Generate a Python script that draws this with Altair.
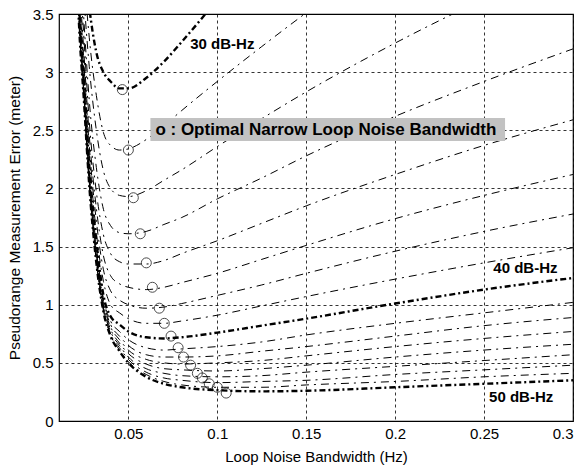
import altair as alt
import pandas as pd

# Loop noise bandwidth grid (Hz)
bw = [0.02, 0.022, 0.025, 0.028, 0.032, 0.036, 0.04, 0.045, 0.05, 0.06,
      0.07, 0.08, 0.1, 0.125, 0.15, 0.2, 0.25, 0.3]

# Pseudorange measurement error (m) for each C/N0 (dB-Hz)
err_30_00 = [5.2, 4.6, 4.0, 3.56, 3.17, 3.0, 2.92, 2.86, 2.86, 2.95, 3.09, 3.26, 3.62, 4.05, 4.43, 5.1, 5.7, 6.24]
err_31_25 = [5.57, 4.74, 3.88, 3.30, 2.80, 2.48, 2.37, 2.33, 2.34, 2.42, 2.54, 2.67, 2.92, 3.22, 3.51, 4.04, 4.51, 4.94]
err_32_50 = [5.33, 4.48, 3.65, 3.05, 2.50, 2.15, 2.0, 1.94, 1.93, 1.98, 2.07, 2.16, 2.36, 2.60, 2.83, 3.25, 3.63, 3.98]
err_33_75 = [5.13, 4.27, 3.45, 2.76, 2.18, 1.82, 1.68, 1.62, 1.61, 1.63, 1.69, 1.75, 1.91, 2.09, 2.28, 2.62, 2.92, 3.20]
err_35_00 = [4.97, 4.10, 3.30, 2.58, 1.97, 1.60, 1.44, 1.37, 1.35, 1.35, 1.38, 1.44, 1.55, 1.70, 1.85, 2.12, 2.37, 2.59]
err_36_25 = [4.85, 3.97, 3.17, 2.46, 1.83, 1.42, 1.25, 1.18, 1.15, 1.13, 1.15, 1.19, 1.27, 1.39, 1.51, 1.74, 1.94, 2.12]
err_37_50 = [4.76, 3.88, 3.08, 2.37, 1.72, 1.30, 1.12, 1.04, 1.0, 0.97, 0.98, 1.01, 1.08, 1.17, 1.27, 1.46, 1.63, 1.78]
err_38_75 = [4.69, 3.80, 3.0, 2.30, 1.62, 1.20, 1.0, 0.93, 0.88, 0.84, 0.84, 0.86, 0.91, 0.99, 1.07, 1.22, 1.36, 1.49]
err_40_00 = [4.62, 3.73, 2.94, 2.20, 1.55, 1.08, 0.90, 0.83, 0.77, 0.72, 0.71, 0.72, 0.76, 0.82, 0.88, 1.01, 1.13, 1.23]
err_41_25 = [4.56, 3.68, 2.90, 2.15, 1.50, 1.05, 0.86, 0.77, 0.70, 0.63, 0.61, 0.62, 0.64, 0.68, 0.74, 0.84, 0.93, 1.02]
err_42_50 = [4.53, 3.64, 2.87, 2.12, 1.47, 1.03, 0.83, 0.73, 0.65, 0.57, 0.55, 0.55, 0.56, 0.60, 0.64, 0.73, 0.82, 0.89]
err_43_75 = [4.50, 3.61, 2.84, 2.10, 1.44, 1.01, 0.81, 0.70, 0.61, 0.53, 0.50, 0.49, 0.50, 0.52, 0.56, 0.64, 0.71, 0.77]
err_45_00 = [4.47, 3.58, 2.82, 2.08, 1.42, 0.99, 0.79, 0.67, 0.58, 0.49, 0.45, 0.44, 0.43, 0.45, 0.48, 0.55, 0.61, 0.66]
err_46_25 = [4.45, 3.55, 2.80, 2.06, 1.40, 0.97, 0.77, 0.65, 0.55, 0.45, 0.41, 0.39, 0.38, 0.39, 0.42, 0.47, 0.52, 0.57]
err_47_50 = [4.42, 3.53, 2.78, 2.05, 1.38, 0.96, 0.75, 0.63, 0.53, 0.42, 0.37, 0.35, 0.33, 0.34, 0.35, 0.40, 0.44, 0.48]
err_48_75 = [4.41, 3.51, 2.77, 2.04, 1.37, 0.95, 0.74, 0.61, 0.51, 0.40, 0.34, 0.31, 0.29, 0.29, 0.31, 0.34, 0.38, 0.41]
err_50_00 = [4.39, 3.50, 2.76, 2.03, 1.36, 0.94, 0.73, 0.60, 0.50, 0.38, 0.32, 0.29, 0.265, 0.255, 0.26, 0.29, 0.32, 0.35]

cn0 = [30.0, 31.25, 32.5, 33.75, 35.0, 36.25, 37.5, 38.75, 40.0,
       41.25, 42.5, 43.75, 45.0, 46.25, 47.5, 48.75, 50.0]
curves = [err_30_00, err_31_25, err_32_50, err_33_75, err_35_00, err_36_25,
          err_37_50, err_38_75, err_40_00, err_41_25, err_42_50, err_43_75,
          err_45_00, err_46_25, err_47_50, err_48_75, err_50_00]
thick_cn0 = [30.0, 40.0, 50.0]

# Optimal narrow loop noise bandwidth points
opt_bw = [0.0466, 0.05, 0.0528, 0.0567, 0.0601, 0.0635, 0.0674, 0.0702, 0.074,
          0.078, 0.081, 0.085, 0.0888, 0.0916, 0.0955, 0.1, 0.105]
opt_err = [2.85, 2.33, 1.92, 1.61, 1.36, 1.15, 0.97, 0.84, 0.73,
           0.63, 0.55, 0.48, 0.41, 0.37, 0.32, 0.29, 0.24]

# Curve labels
label_text = ["30 dB-Hz", "40 dB-Hz", "50 dB-Hz"]
label_bw = [0.0848, 0.2552, 0.2528]
label_err = [3.24, 1.315, 0.205]

note_text = ["o : Optimal Narrow Loop Noise Bandwidth"]
note_bw = [0.0652]
note_err = [2.506]
box_bw = [0.0624]
box_bw2 = [0.2618]
box_err = [2.408]
box_err2 = [2.605]

rows = []
for c, vals in zip(cn0, curves):
    for b, v in zip(bw, vals):
        rows.append({"cn0": c, "bw": b, "err": v, "thick": c in thick_cn0})
df = pd.DataFrame(rows)
df_thin = df[~df["thick"]]
df_thick = df[df["thick"]]

FONT = "Liberation Sans"
xs = alt.Scale(domain=[0.011, 0.3], nice=False, zero=False)
ys = alt.Scale(domain=[0, 3.5], nice=False, zero=True)

xax = alt.Axis(values=[0.05, 0.1, 0.15, 0.2, 0.25, 0.3], format="~g",
               title="Loop Noise Bandwidth (Hz)", grid=True, ticks=False,
               domain=False, labelPadding=5, labelFontSize=15, labelFont=FONT,
               labelColor="black", titleFont=FONT, titleFontSize=15,
               titleFontWeight="normal", titleColor="black",
               titleBaseline="middle", titleY=35,
               gridColor="black", gridDash=[3, 3], gridWidth=0.8, gridOpacity=1)
yax = alt.Axis(values=[0, 0.5, 1, 1.5, 2, 2.5, 3, 3.5], format="~g",
               title="Pseudorange Measurement Error (meter)", grid=True,
               ticks=False, domain=False, labelPadding=6, labelFontSize=15,
               labelFont=FONT, labelColor="black", titleFont=FONT,
               titleFontSize=15.5, titleFontWeight="normal", titleColor="black",
               titleBaseline="middle", titleX=-45, titleY=203.5, titleAngle=-90,
               gridColor="black", gridDash=[3, 3], gridWidth=0.8, gridOpacity=1)

thin = alt.Chart(df_thin).mark_line(
    color="black", strokeWidth=1, strokeDash=[8, 5, 2, 5],
    interpolate="monotone", clip=True
).encode(
    x=alt.X("bw:Q", scale=xs, axis=xax),
    y=alt.Y("err:Q", scale=ys, axis=yax),
    detail="cn0:N",
    order="bw:Q",
)

thick = alt.Chart(df_thick).mark_line(
    color="black", strokeWidth=2.4, strokeDash=[6, 3, 2, 3],
    interpolate="monotone", clip=True
).encode(
    x=alt.X("bw:Q", scale=xs),
    y=alt.Y("err:Q", scale=ys),
    detail="cn0:N",
    order="bw:Q",
)

opt_df = pd.DataFrame({"bw": opt_bw, "err": opt_err})
circles = alt.Chart(opt_df).mark_point(
    shape="circle", filled=False, color="black", size=100, strokeWidth=1
).encode(x=alt.X("bw:Q", scale=xs), y=alt.Y("err:Q", scale=ys))

box_df = pd.DataFrame({"x": box_bw, "x2": box_bw2, "y": box_err, "y2": box_err2})
box = alt.Chart(box_df).mark_rect(color="#c2c2c2").encode(
    x=alt.X("x:Q", scale=xs), x2="x2:Q",
    y=alt.Y("y:Q", scale=ys), y2="y2:Q")

note_df = pd.DataFrame({"bw": note_bw, "err": note_err, "t": note_text})
note = alt.Chart(note_df).mark_text(
    align="left", baseline="middle", font=FONT, fontSize=17,
    fontWeight="bold", color="black"
).encode(x=alt.X("bw:Q", scale=xs), y=alt.Y("err:Q", scale=ys), text="t:N")

lab_df = pd.DataFrame({"bw": label_bw, "err": label_err, "t": label_text})
labels = alt.Chart(lab_df).mark_text(
    align="left", baseline="middle", font=FONT, fontSize=15,
    fontWeight="bold", color="black"
).encode(x=alt.X("bw:Q", scale=xs), y=alt.Y("err:Q", scale=ys), text="t:N")

chart = alt.layer(thin, thick, circles, box, note, labels).properties(
    width=514, height=407,
    autosize=alt.AutoSizeParams(type="none"),
    padding={"left": 59, "top": 14, "right": 11, "bottom": 46},
    background="white",
).configure_view(stroke="black", strokeWidth=1.2)

chart.save("out.html", embed_options={"renderer": "svg", "actions": False})
